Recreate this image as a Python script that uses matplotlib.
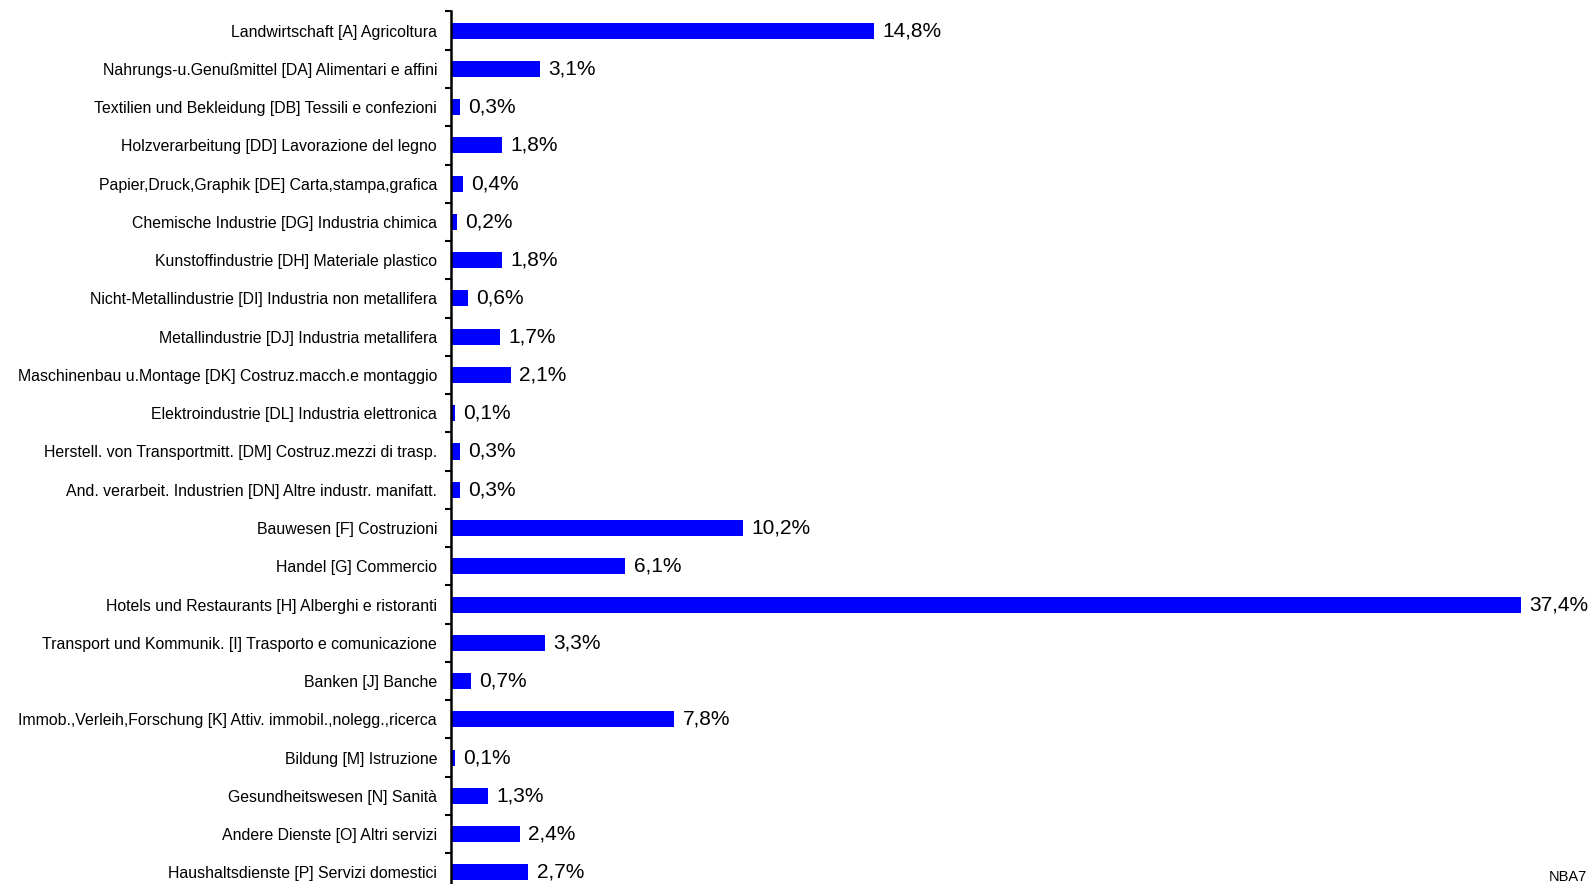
import numpy as np
import matplotlib.pyplot as plt

plt.rcParams['font.family'] = ['Liberation Sans', 'DejaVu Sans']

labels = [
    "Landwirtschaft [A] Agricoltura",
    "Nahrungs-u.Genußmittel [DA] Alimentari e affini",
    "Textilien und Bekleidung [DB] Tessili e confezioni",
    "Holzverarbeitung [DD] Lavorazione del legno",
    "Papier,Druck,Graphik [DE] Carta,stampa,grafica",
    "Chemische Industrie [DG] Industria chimica",
    "Kunstoffindustrie [DH] Materiale plastico",
    "Nicht-Metallindustrie [DI] Industria non metallifera",
    "Metallindustrie [DJ] Industria metallifera",
    "Maschinenbau u.Montage [DK] Costruz.macch.e montaggio",
    "Elektroindustrie [DL] Industria elettronica",
    "Herstell. von Transportmitt. [DM] Costruz.mezzi di trasp.",
    "And. verarbeit. Industrien [DN] Altre industr. manifatt.",
    "Bauwesen [F] Costruzioni",
    "Handel [G] Commercio",
    "Hotels und Restaurants [H] Alberghi e ristoranti",
    "Transport und Kommunik. [I] Trasporto e comunicazione",
    "Banken [J] Banche",
    "Immob.,Verleih,Forschung [K] Attiv. immobil.,nolegg.,ricerca",
    "Bildung [M] Istruzione",
    "Gesundheitswesen [N] Sanità",
    "Andere Dienste [O] Altri servizi",
    "Haushaltsdienste [P] Servizi domestici",
]
# shares in %, unrounded where the bar length shows it
values = [14.8, 3.1, 0.3, 1.8, 0.42, 0.2, 1.8, 0.6, 1.7, 2.1, 0.14, 0.3, 0.3,
          10.2, 6.1, 37.4, 3.3, 0.7, 7.8, 0.14, 1.3, 2.4, 2.7]

W, H = 1595, 884
fig = plt.figure(figsize=(W / 100, H / 100), dpi=100)
ax = fig.add_axes([451 / W, (H - 891.5) / H, (W - 451) / W, 880 / H])

y = np.arange(len(values))
ax.barh(y, values, height=0.42, color='#0000FF')
ax.set_ylim(len(values) - 0.5, -0.5)
ax.set_xlim(0, 40)

for yi, v in zip(y, values):
    ax.annotate(f"{v:.1f}%".replace('.', ','), (v, yi), xytext=(6, 0),
                textcoords='offset points', va='center', ha='left', fontsize=15)

ax.set_yticks(np.arange(len(values) + 1) - 0.5)
ax.set_yticklabels([])
ax.set_yticks(y, labels, minor=True)
ax.tick_params(axis='y', which='major', direction='out', length=4, width=1.5)
ax.tick_params(axis='y', which='minor', length=0, pad=10, labelsize=11.45)
ax.set_xticks([])
for s in ['top', 'right', 'bottom']:
    ax.spines[s].set_visible(False)
ax.spines['left'].set_linewidth(1.8)

fig.text(1587 / W, 1 - 877 / H, "NBA7", ha='right', va='center', fontsize=10.5)

fig.savefig("out.png", dpi=100)
